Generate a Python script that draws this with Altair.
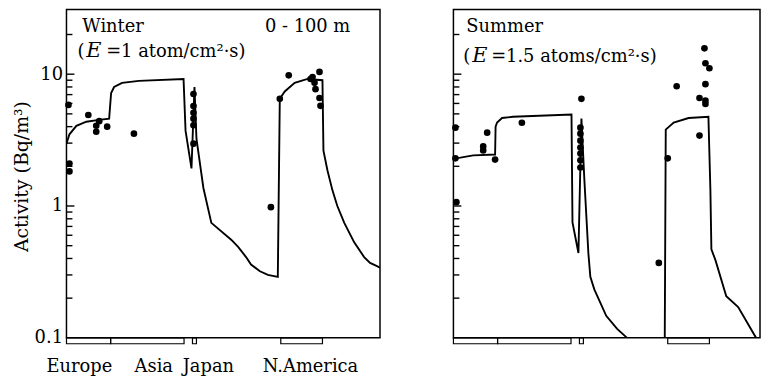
import altair as alt
import pandas as pd

# ---------------- data (distance along route, activity in Bq/m3) ----------------
winter_curve_x = [0, 3, 10, 20, 33, 43, 45, 48, 56, 73, 118, 120, 126, 129, 131, 138,
                  146, 166, 173, 181, 186, 195, 203, 213, 215, 220, 230, 243, 258,
                  259, 263, 268, 273, 280, 290, 300, 306, 313, 316]
winter_curve_y = [2.97, 3.5, 4.06, 4.36, 4.5, 4.6, 7.2, 8.0, 8.6, 8.9, 9.2, 3.73, 1.93, 8.0, 3.24, 1.37,
                  0.745, 0.555, 0.49, 0.41, 0.36, 0.32, 0.30, 0.29, 6.5, 7.4, 8.6, 9.2, 9.0,
                  2.63, 1.87, 1.32, 1.0, 0.745, 0.53, 0.41, 0.37, 0.35, 0.34]

summer_curve_x = [0, 7, 20, 42, 42.5, 44, 49, 60, 119, 120, 126, 129, 132, 136, 138, 142,
                  154, 165, 175, 213, 214, 222, 237, 257, 259, 260, 264, 275, 287, 305]
summer_curve_y = [2.3, 2.33, 2.42, 2.46, 4.0, 4.3, 4.65, 4.75, 4.95, 0.75, 0.44, 4.6, 1.57, 0.44, 0.29, 0.233,
                  0.147, 0.117, 0.1, 0.1, 3.8, 4.3, 4.65, 4.75, 1.32, 0.47, 0.39, 0.207, 0.171, 0.1]

winter_obs_x = [2, 3, 3, 22, 30, 30, 33, 41, 68,
                128, 128, 128, 128, 128, 128,
                206, 215, 224, 246, 248, 250, 251, 255, 255, 256]
winter_obs_y = [5.85, 2.1, 1.83, 4.9, 4.06, 3.66, 4.4, 4.0, 3.54,
                7.07, 5.74, 5.1, 4.6, 4.1, 2.97,
                0.98, 6.5, 9.8, 9.2, 9.5, 8.6, 7.7, 10.4, 6.6, 5.75]

summer_obs_x = [2, 2, 3, 30, 30, 34, 42, 69,
                128, 128, 128, 128, 128, 128, 128, 129,
                207, 216, 225, 248, 248, 253, 254, 258, 254, 254, 254]
summer_obs_y = [3.93, 2.3, 1.07, 2.83, 2.64, 3.6, 2.25, 4.28,
                3.93, 3.54, 3.13, 2.78, 2.5, 2.22, 1.96, 6.5,
                0.37, 2.3, 8.1, 3.42, 6.6, 15.7, 12.1, 11.1, 8.4, 6.3, 5.95]

region_names = ["Europe", "Asia", "Japan", "N.America"]
region_start = [0, 44.5, 127, 216]
region_end = [44.5, 118.5, 131, 258]
region_label_x = [13, 88, 143, 246]

major_ticks = [1, 10]
minor_ticks = [0.2, 0.3, 0.4, 0.5, 0.6, 0.7, 0.8, 0.9, 2, 3, 4, 5, 6, 7, 8, 9, 20]

y_labels = [0.1, 1, 10]
y_title = "Activity (Bq/m³)"

# ---------------- styling ----------------
FONT = "DejaVu Serif"
FS = 18
H = 331
W_L, W_R = 316, 309
Y_DOMAIN = [0.1, 31]


def panel(curve_x, curve_y, obs_x, obs_y, width, x_max, show_axis, texts):
    xs = alt.Scale(domain=[0, x_max], nice=False, zero=False)
    ys = alt.Scale(type="log", domain=Y_DOMAIN, nice=False)
    if show_axis:
        yaxis = alt.Axis(values=y_labels, format="~g", ticks=False, domain=False, grid=False,
                         labelFont=FONT, labelFontSize=FS, labelColor="black", labelPadding=4,
                         labelOverlap=False, labelFlush=False,
                         titleFont=FONT, titleFontSize=19, titleFontWeight="normal",
                         titleColor="black", titleX=-45, titleY=168, titleAngle=-90,
                         titleBaseline="middle", titleAlign="center")
    else:
        yaxis = None

    def Y(field):
        return alt.Y(field, scale=ys, axis=yaxis, title=y_title)

    def X(field):
        return alt.X(field, scale=xs, axis=None)

    curve_df = pd.DataFrame({"x": curve_x, "y": curve_y, "i": list(range(len(curve_x)))})
    obs_df = pd.DataFrame({"x": obs_x, "y": obs_y})
    reg_df = pd.DataFrame({"region": region_names, "start": region_start,
                           "end": region_end, "lx": region_label_x})

    line = alt.Chart(curve_df).mark_line(color="black", strokeWidth=1.9, clip=True).encode(
        x=X("x:Q"), y=Y("y:Q"), order=alt.Order("i:Q"))
    pts = alt.Chart(obs_df).mark_circle(color="black", size=45, opacity=1).encode(
        x=X("x:Q"), y=Y("y:Q"))
    maj = alt.Chart(pd.DataFrame({"v": major_ticks})).mark_rule(color="black", strokeWidth=1.4).encode(
        y=Y("v:Q"), x=alt.value(0), x2=alt.value(8))
    mnr = alt.Chart(pd.DataFrame({"v": minor_ticks})).mark_rule(color="black", strokeWidth=1.4).encode(
        y=Y("v:Q"), x=alt.value(0), x2=alt.value(6))
    brk = alt.Chart(reg_df).mark_rect(fillOpacity=0, stroke="black", strokeWidth=1.2).encode(
        x=X("start:Q"), x2="end:Q", y=alt.value(H), y2=alt.value(H + 6))

    layers = [line, pts, maj, mnr, brk]
    if show_axis:
        lab = alt.Chart(reg_df).mark_text(font=FONT, fontSize=FS, color="black",
                                          baseline="alphabetic", align="center").encode(
            x=X("lx:Q"), y=alt.value(H + 34), text="region:N")
        layers.append(lab)

    for t, px, py, italic, size in texts:
        layers.append(
            alt.Chart(pd.DataFrame({"t": [t]})).mark_text(
                font=FONT, fontSize=size, color="black", align="left", baseline="alphabetic",
                fontStyle="italic" if italic else "normal").encode(
                x=alt.value(px), y=alt.value(py), text="t:N"))

    return alt.layer(*layers).properties(width=width, height=H)


winter_texts = [("Winter", 16, 23, False, FS), ("0 - 100 m", 200, 23, False, FS),
                ("(", 11, 48, False, FS), ("E", 20, 48, True, 21),
                ("=1 atom/cm²·s)", 40, 48, False, FS)]
summer_texts = [("Summer", 13, 23, False, FS),
                ("(", 10, 53, False, FS), ("E", 19, 53, True, 21),
                ("=1.5 atoms/cm²·s)", 38, 53, False, FS)]

left = panel(winter_curve_x, winter_curve_y, winter_obs_x, winter_obs_y, W_L, W_L, True, winter_texts)
right = panel(summer_curve_x, summer_curve_y, summer_obs_x, summer_obs_y, W_R, W_R, False, summer_texts)

chart = alt.hconcat(left, right, spacing=70).resolve_scale(
    x="independent", y="independent").configure_view(
    stroke="black", strokeWidth=1.5).properties(
    padding={"left": 12, "top": 7, "right": 0, "bottom": 0}, background="white")

chart.save("out.html", embed_options={"renderer": "svg", "actions": False})
